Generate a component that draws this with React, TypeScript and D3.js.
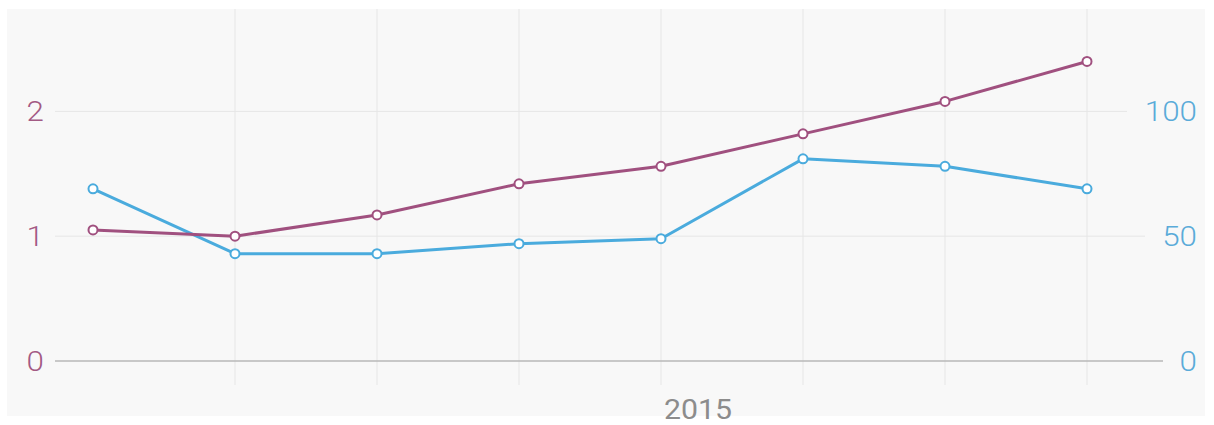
import React, { useEffect, useRef } from "react";
import * as d3 from "d3";

// periods along the x axis; only "2015" is readable in the picture
const periods = ["p1", "p2", "p3", "p4", "p5", "p6", "p7", "p8"];
const periodLabels = ["", "", "", "", "2015", "", "", ""];

// left axis series (purple)
const leftSeries = [1.05, 1.0, 1.17, 1.42, 1.56, 1.82, 2.08, 2.4];
// right axis series (blue)
const rightSeries = [69, 43, 43, 47, 49, 81, 78, 69];

const leftTicks = [0, 1, 2];
const rightTicks = [0, 50, 100];

const W = 1214;
const H = 425;
const purple = "#a0507f";
const blue = "#4aabdd";
const stretch = 1.12;

const App = () => {
  const svgRef = useRef<SVGSVGElement>(null);

  useEffect(() => {
    const svg = d3.select(svgRef.current);
    svg.selectAll("*").remove();

    const top = 9;
    const baseY = 361;

    const x = d3.scalePoint<string>().domain(periods).range([93, 1087]);
    const yL = d3.scaleLinear().domain([0, 1]).range([baseY, baseY - 124.8]);
    const yR = d3.scaleLinear().domain([0, 50]).range([baseY, baseY - 124.8]);

    svg
      .append("rect")
      .attr("x", 7)
      .attr("y", top)
      .attr("width", 1198)
      .attr("height", 407)
      .attr("fill", "#f8f8f8");

    // vertical grid lines (none at the first point)
    svg
      .append("g")
      .selectAll("line")
      .data(periods.slice(1))
      .join("line")
      .attr("x1", (d) => x(d))
      .attr("x2", (d) => x(d))
      .attr("y1", top)
      .attr("y2", 385)
      .attr("stroke", "#e6e6e6")
      .attr("stroke-width", 1);

    // horizontal grid lines
    const rightLabelX = 1197;
    svg
      .append("g")
      .selectAll("line")
      .data(leftTicks)
      .join("line")
      .attr("x1", 55)
      .attr("x2", (d, i) => rightLabelX - String(rightTicks[i]).length * 18 - 16)
      .attr("y1", (d) => yL(d))
      .attr("y2", (d) => yL(d))
      .attr("stroke", (d) => (d === 0 ? "#b8b8b8" : "#e6e6e6"))
      .attr("stroke-width", (d) => (d === 0 ? 1.5 : 1));

    // left tick labels
    svg
      .append("g")
      .selectAll("text")
      .data(leftTicks)
      .join("text")
      .attr("transform", (d) => `translate(44,${yL(d)}) scale(${stretch},1)`)
      .attr("dy", "0.36em")
      .attr("text-anchor", "end")
      .attr("fill", "#a35a84")
      .attr("font-family", "Roboto, sans-serif")
      .attr("font-weight", 300)
      .attr("font-size", 28)
      .text((d) => d);

    // right tick labels
    svg
      .append("g")
      .selectAll("text")
      .data(rightTicks)
      .join("text")
      .attr("transform", (d) => `translate(${rightLabelX},${yR(d)}) scale(${stretch},1)`)
      .attr("dy", "0.36em")
      .attr("text-anchor", "end")
      .attr("fill", "#5aabd9")
      .attr("font-family", "Roboto, sans-serif")
      .attr("font-weight", 300)
      .attr("font-size", 28)
      .text((d) => d);

    // x labels, left-aligned at the tick
    svg
      .append("g")
      .selectAll("text")
      .data(periods)
      .join("text")
      .attr("transform", (d) => `translate(${x(d) + 3},419) scale(1.08,1)`)
      .attr("fill", "#8c8c8c")
      .attr("font-family", "Roboto, sans-serif")
      .attr("font-size", 28)
      .text((d, i) => periodLabels[i]);

    const drawSeries = (vals: number[], y: d3.ScaleLinear<number, number>, color: string) => {
      const line = d3
        .line<number>()
        .x((d, i) => x(periods[i]))
        .y((d) => y(d));
      svg
        .append("path")
        .datum(vals)
        .attr("d", line)
        .attr("fill", "none")
        .attr("stroke", color)
        .attr("stroke-width", 3)
        .attr("stroke-linejoin", "round");
      svg
        .append("g")
        .selectAll("circle")
        .data(vals)
        .join("circle")
        .attr("cx", (d, i) => x(periods[i]))
        .attr("cy", (d) => y(d))
        .attr("r", 4.5)
        .attr("fill", "#fff")
        .attr("stroke", color)
        .attr("stroke-width", 2);
    };

    drawSeries(rightSeries, yR, blue);
    drawSeries(leftSeries, yL, purple);
  }, []);

  return (
    <svg
      ref={svgRef}
      width={W}
      height={H}
      style={{ position: "absolute", left: 0, top: 0, display: "block", background: "#fff" }}
    ></svg>
  );
};

export default App;
